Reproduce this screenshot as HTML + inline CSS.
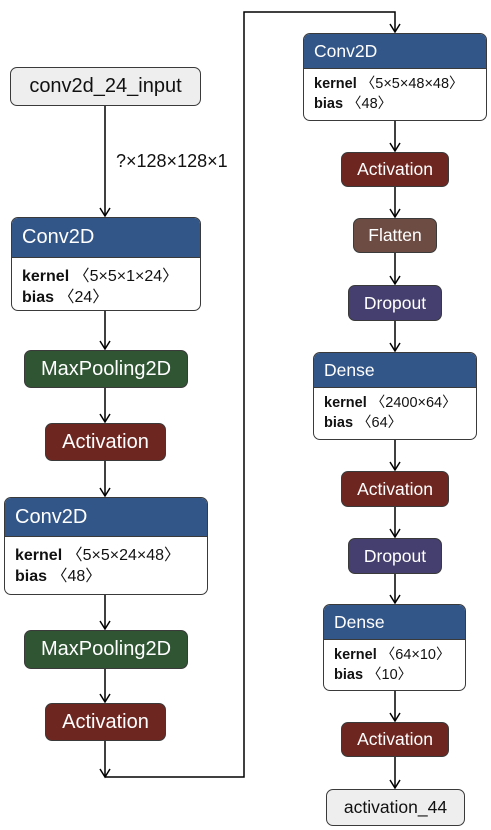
<!DOCTYPE html>
<html><head><meta charset="utf-8"><style>
html,body{margin:0;padding:0;background:#fff;}
body{width:491px;height:830px;position:relative;overflow:hidden;font-family:"Liberation Sans","DejaVu Sans",sans-serif;}
.n{position:absolute;box-sizing:border-box;border:1.5px solid #3a3a3a;border-radius:7px;color:#fff;display:flex;align-items:center;justify-content:center;overflow:hidden;white-space:nowrap;}
.io{background:#eeeeee;color:#111;}
.act{background:#6e2620;}
.mp{background:#2f5533;}
.fl{background:#6d4c43;}
.dr{background:#443f6e;}
.l{font-size:20px;}
.r{font-size:17.5px;}
.c{position:absolute;box-sizing:border-box;border:1.5px solid #3a3a3a;border-radius:7px;overflow:hidden;background:#fff;white-space:nowrap;}
.c .h{background:#335689;color:#fff;border-bottom:1px solid #3a3a3a;box-sizing:border-box;padding-left:10px;display:flex;align-items:center;}
.c .b{color:#111;padding:8px 0 0 10px;line-height:21px;}
.c .b b{font-weight:bold;}
.k{font-family:"Liberation Sans","Noto Sans CJK JP",sans-serif;}
svg{position:absolute;left:0;top:0;}
</style></head><body>
<svg width="491" height="830">
<defs>
<marker id="d" markerWidth="12" markerHeight="12" refX="6" refY="9" orient="0" markerUnits="userSpaceOnUse"><path d="M1,1 L6,9 L11,1" fill="none" stroke="#000" stroke-width="1.5"/></marker></defs>
<g stroke="#000" stroke-width="1.5" fill="none">
<path d="M105,105 V216" marker-end="url(#d)"/>
<path d="M105,310 V349" marker-end="url(#d)"/>
<path d="M105,387 V422" marker-end="url(#d)"/>
<path d="M105,460 V496" marker-end="url(#d)"/>
<path d="M105,594 V629" marker-end="url(#d)"/>
<path d="M105,668 V702" marker-end="url(#d)"/>
<path d="M105,740 V777" marker-end="url(#d)"/>
<path d="M105,777 H244 V12 H395 V32" marker-end="url(#d)"/>
<path d="M395,120 V151" marker-end="url(#d)"/>
<path d="M395,186 V217" marker-end="url(#d)"/>
<path d="M395,252 V284" marker-end="url(#d)"/>
<path d="M395,320 V351" marker-end="url(#d)"/>
<path d="M395,439 V470" marker-end="url(#d)"/>
<path d="M395,506 V537" marker-end="url(#d)"/>
<path d="M395,573 V603" marker-end="url(#d)"/>
<path d="M395,690 V721" marker-end="url(#d)"/>
<path d="M395,756 V788" marker-end="url(#d)"/>
</g>
<text x="116" y="167" font-size="18" font-family="Liberation Sans, DejaVu Sans, sans-serif" fill="#111">?×128×128×1</text>
</svg>

<div class="n io l" style="left:10px;top:67px;width:191px;height:39px;">conv2d_24_input</div>

<div class="c" style="left:11px;top:217px;width:190px;height:94px;">
<div class="h" style="height:40px;font-size:20px;">Conv2D</div>
<div class="b k" style="font-size:16px;"><b>kernel</b> 〈5×5×1×24〉<br><b>bias</b> 〈24〉</div></div>

<div class="n mp l" style="left:24px;top:350px;width:164px;height:38px;">MaxPooling2D</div>
<div class="n act l" style="left:45px;top:423px;width:121px;height:38px;">Activation</div>

<div class="c" style="left:4px;top:497px;width:204px;height:98px;">
<div class="h" style="height:39px;font-size:20px;">Conv2D</div>
<div class="b k" style="font-size:16px;"><b>kernel</b> 〈5×5×24×48〉<br><b>bias</b> 〈48〉</div></div>

<div class="n mp l" style="left:24px;top:630px;width:164px;height:39px;">MaxPooling2D</div>
<div class="n act l" style="left:45px;top:703px;width:121px;height:38px;">Activation</div>

<div class="c" style="left:303px;top:33px;width:184px;height:88px;">
<div class="h" style="height:35px;font-size:17.5px;">Conv2D</div>
<div class="b k" style="font-size:14.5px;padding-top:5px;line-height:20px;"><b>kernel</b> 〈5×5×48×48〉<br><b>bias</b> 〈48〉</div></div>

<div class="n act r" style="left:341px;top:152px;width:108px;height:35px;">Activation</div>
<div class="n fl r" style="left:353px;top:218px;width:84px;height:35px;">Flatten</div>
<div class="n dr r" style="left:348px;top:285px;width:94px;height:36px;">Dropout</div>

<div class="c" style="left:313px;top:352px;width:164px;height:88px;">
<div class="h" style="height:35px;font-size:17.5px;">Dense</div>
<div class="b k" style="font-size:14.5px;padding-top:5px;line-height:20px;"><b>kernel</b> 〈2400×64〉<br><b>bias</b> 〈64〉</div></div>

<div class="n act r" style="left:341px;top:471px;width:108px;height:36px;">Activation</div>
<div class="n dr r" style="left:348px;top:538px;width:94px;height:36px;">Dropout</div>

<div class="c" style="left:323px;top:604px;width:143px;height:87px;">
<div class="h" style="height:35px;font-size:17.5px;">Dense</div>
<div class="b k" style="font-size:14.5px;padding-top:5px;line-height:20px;"><b>kernel</b> 〈64×10〉<br><b>bias</b> 〈10〉</div></div>

<div class="n act r" style="left:341px;top:722px;width:108px;height:35px;">Activation</div>
<div class="n io r" style="left:326px;top:789px;width:139px;height:37px;">activation_44</div>
</body></html>
